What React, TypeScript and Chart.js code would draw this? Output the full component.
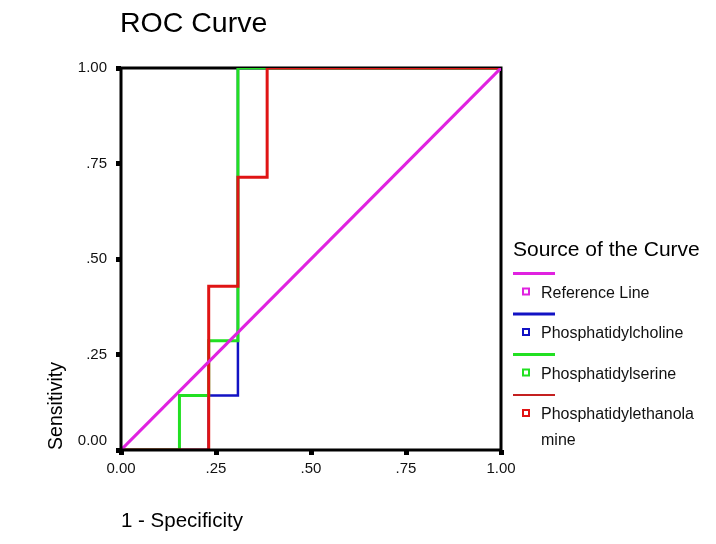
import React, { useEffect, useRef } from "react";
import { Chart, registerables } from "chart.js";

Chart.register(...registerables);

const FONT = "Arial, 'Liberation Sans', sans-serif";

const chartTitle = "ROC Curve";
const xAxisTitle = "1 - Specificity";
const yAxisTitle = "Sensitivity";
const legendTitle = "Source of the Curve";

const xTickValues = [0, 0.25, 0.5, 0.75, 1];
const xTickLabels = ["0.00", ".25", ".50", ".75", "1.00"];
const yTickValues = [0, 0.25, 0.5, 0.75, 1];
const yTickLabels = ["0.00", ".25", ".50", ".75", "1.00"];

const seriesNames = ["Reference Line", "Phosphatidylcholine", "Phosphatidylserine", "Phosphatidylethanolamine"];
const legendLabelLines = [["Reference Line"], ["Phosphatidylcholine"], ["Phosphatidylserine"], ["Phosphatidylethanola", "mine"]];
const seriesColors = ["#e022e0", "#1212c4", "#22e022", "#e01414"];
const legendLineColors = ["#e022e0", "#1212c4", "#22e022", "#c42020"];

// 1 - specificity (x) and sensitivity (y) step points
const refX = [0, 1];
const refY = [0, 1];
const pcX = [0, 0.2308, 0.2308, 0.3077, 0.3077, 1];
const pcY = [0, 0, 0.1429, 0.1429, 1, 1];
const psX = [0, 0.1538, 0.1538, 0.2308, 0.2308, 0.3077, 0.3077, 1];
const psY = [0, 0, 0.1429, 0.1429, 0.2857, 0.2857, 1, 1];
const peX = [0, 0.2308, 0.2308, 0.3077, 0.3077, 0.3846, 0.3846, 1];
const peY = [0, 0, 0.4286, 0.4286, 0.7143, 0.7143, 1, 1];

const seriesX = [refX, pcX, psX, peX];
const seriesY = [refY, pcY, psY, peY];
const drawOrder = [0, 3, 2, 1];
const lineWidths = [3, 2.5, 3, 3];

const decoPlugin = {
  id: "deco",
  beforeDatasetsDraw(chart: any) {
    const { ctx, chartArea: a } = chart;
    ctx.save();
    ctx.strokeStyle = "#000";
    ctx.lineWidth = 3;
    ctx.beginPath();
    ctx.moveTo(a.left, a.top);
    ctx.lineTo(a.right, a.top);
    ctx.lineTo(a.right, a.bottom);
    ctx.stroke();
    ctx.restore();
  },
  afterDatasetsDraw(chart: any) {
    const { ctx, chartArea: a } = chart;
    const ys = chart.scales.y;
    ctx.save();
    // left & bottom axes
    ctx.strokeStyle = "#000";
    ctx.lineWidth = 3;
    ctx.beginPath();
    ctx.moveTo(a.left, a.top);
    ctx.lineTo(a.left, a.bottom);
    ctx.lineTo(a.right, a.bottom);
    ctx.stroke();

    // y tick labels
    ctx.fillStyle = "#111";
    ctx.font = `15px ${FONT}`;
    ctx.textAlign = "right";
    ctx.textBaseline = "middle";
    yTickValues.forEach((v, i) => {
      let py = ys.getPixelForValue(v);
      if (v === 0) py -= 9;
      ctx.fillText(yTickLabels[i], 107, py);
    });

    // chart title
    ctx.fillStyle = "#000";
    ctx.textAlign = "left";
    ctx.font = `28.5px ${FONT}`;
    ctx.fillText(chartTitle, 120, 24);

    // x axis title
    ctx.font = `20.5px ${FONT}`;
    ctx.fillText(xAxisTitle, 121, 521);

    // y axis title
    ctx.save();
    ctx.translate(57, 406);
    ctx.rotate(-Math.PI / 2);
    ctx.textAlign = "center";
    ctx.font = `19.5px ${FONT}`;
    ctx.fillText(yAxisTitle, 0, 0);
    ctx.restore();

    // legend
    ctx.font = `21px ${FONT}`;
    ctx.textAlign = "left";
    ctx.fillText(legendTitle, 513, 250);
    seriesNames.forEach((_, i) => {
      const ly = 273.5 + i * 40.5;
      ctx.strokeStyle = legendLineColors[i];
      ctx.lineWidth = i === 3 ? 2 : 3;
      ctx.beginPath();
      ctx.moveTo(513, ly);
      ctx.lineTo(555, ly);
      ctx.stroke();
      ctx.strokeStyle = seriesColors[i];
      ctx.lineWidth = 2;
      ctx.strokeRect(523, ly + 15, 6, 6);
      ctx.fillStyle = "#111";
      ctx.font = `16px ${FONT}`;
      legendLabelLines[i].forEach((t, j) => {
        ctx.fillText(t, 541, ly + 20 + j * 26);
      });
    });
    ctx.restore();
  },
};

export default function App() {
  const ref = useRef<HTMLCanvasElement | null>(null);
  useEffect(() => {
    if (!ref.current) return;
    const chart = new Chart(ref.current, {
      type: "line",
      data: {
        datasets: seriesNames.map((name, i) => ({
          label: name,
          data: seriesX[i].map((x, k) => ({ x, y: seriesY[i][k] })),
          borderColor: seriesColors[i],
          backgroundColor: seriesColors[i],
          borderWidth: lineWidths[i],
          pointRadius: 0,
          tension: 0,
          fill: false,
          order: drawOrder[i],
        })),
      },
      plugins: [decoPlugin],
      options: {
        animation: false,
        responsive: false,
        devicePixelRatio: 1,
        layout: { padding: { top: 68, right: 215, left: 0, bottom: 0 } },
        plugins: { legend: { display: false }, tooltip: { enabled: false }, title: { display: false } },
        scales: {
          x: {
            type: "linear",
            min: 0,
            max: 1,
            afterFit: (s: any) => { s.height = 94; },
            afterBuildTicks: (s: any) => { s.ticks = xTickValues.map((v) => ({ value: v })); },
            ticks: {
              callback: (v: any) => { const i = xTickValues.indexOf(Number(v)); return i >= 0 ? xTickLabels[i] : ""; },
              font: { family: FONT, size: 15 },
              color: "#111",
              padding: 5,
              maxRotation: 0,
              autoSkip: false,
            },
            grid: { drawOnChartArea: false, drawTicks: true, tickLength: 5, tickWidth: 5, tickColor: "#000" },
            border: { display: false },
          },
          y: {
            type: "linear",
            min: 0,
            max: 1,
            afterFit: (s: any) => { s.width = 121; },
            afterBuildTicks: (s: any) => { s.ticks = yTickValues.map((v) => ({ value: v })); },
            ticks: { display: false },
            grid: { drawOnChartArea: false, drawTicks: true, tickLength: 5, tickWidth: 5, tickColor: "#000" },
            border: { display: false },
          },
        },
      },
    } as any);
    return () => chart.destroy();
  }, []);
  return (
    <div style={{ position: "absolute", left: 0, top: 0, width: 716, height: 544, background: "#fff" }}>
      <canvas ref={ref} width={716} height={544} style={{ display: "block" }} />
    </div>
  );
}
